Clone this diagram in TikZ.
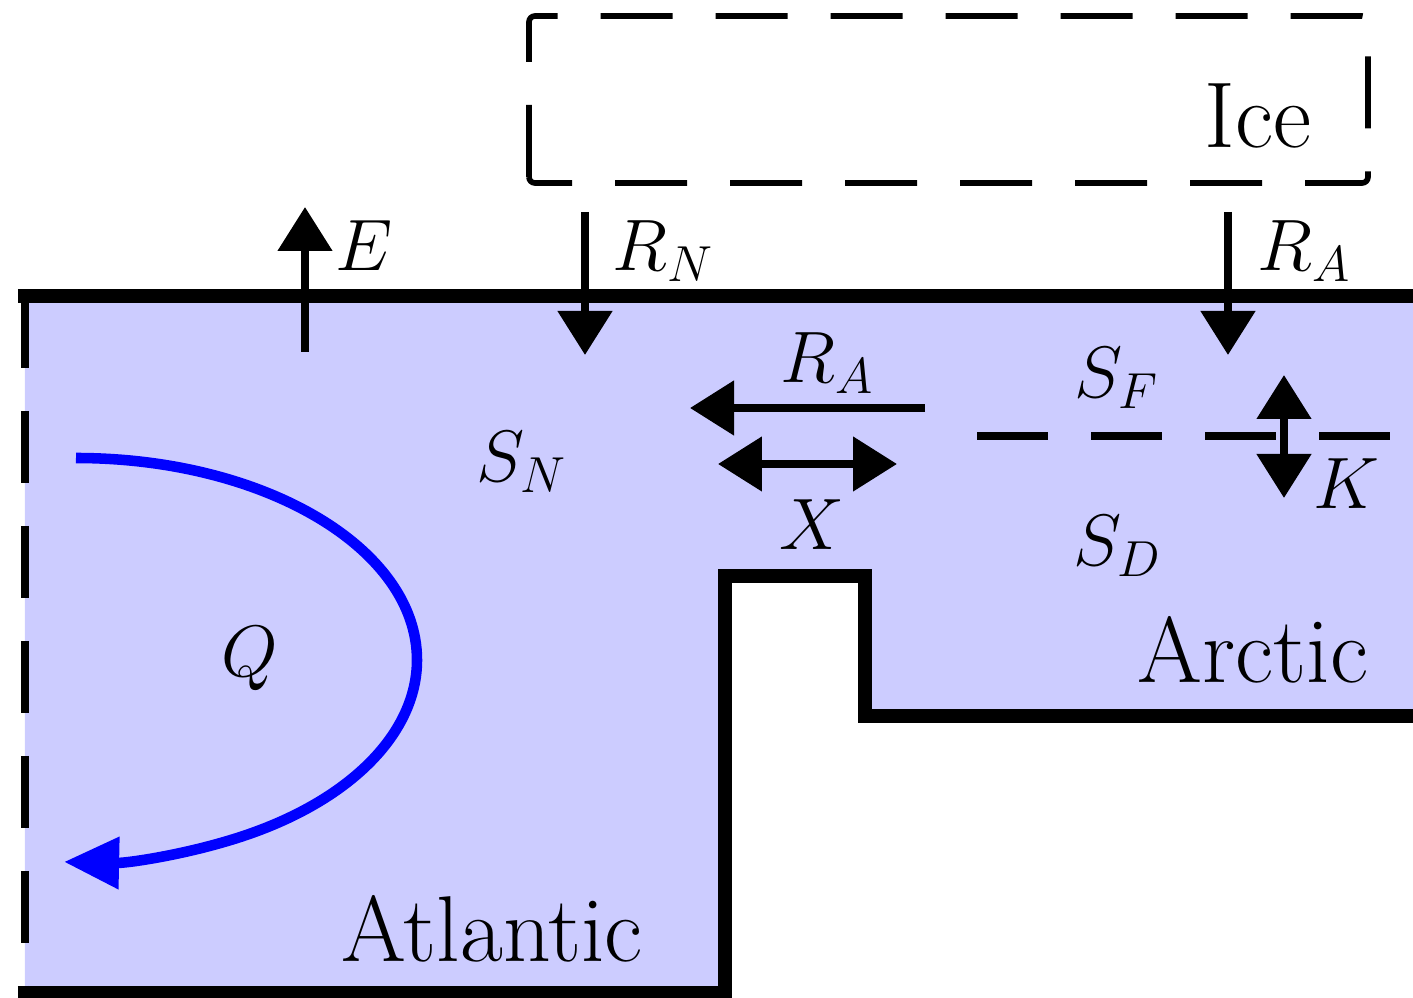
\documentclass[tikz,border=0pt]{standalone}
\usetikzlibrary{arrows.meta}

\begin{document}
\begin{tikzpicture}[
    wall/.style={line width=4pt, line join=miter},
    openb/.style={line width=2pt, dash pattern=on 0.72cm off 0.43cm},
    icebox/.style={line width=1.6pt, dash pattern=on 0.72cm off 0.43cm, rounded corners=0.6mm},
    flux/.style={-{Triangle[length=4.4mm,width=5.3mm]}, line width=2.3pt},
    mix/.style={{Triangle[length=4.4mm,width=5.3mm]}-{Triangle[length=4.4mm,width=5.3mm]}, line width=2.3pt},
    circ/.style={-{Triangle[length=5.5mm,width=5mm]}, line width=3pt, blue},
    lbl/.style={font=\fontsize{20}{24}\selectfont, inner sep=0pt, anchor=base west},
    region/.style={font=\fontsize{26.6}{30}\selectfont, inner sep=0pt, anchor=base},
]
\useasboundingbox (0,0) rectangle (14.13,9.98);

% ocean basins
\fill[blue!20] (0.25,7.02) -- (14.13,7.02) -- (14.13,2.82) -- (8.65,2.82) -- (8.65,4.22)
    -- (7.25,4.22) -- (7.25,0.05) -- (0.25,0.05) -- cycle;
\draw[wall] (0.18,7.02) -- (14.13,7.02);
\draw[wall] (0.18,0.05) -- (7.25,0.05) -- (7.25,4.22) -- (8.65,4.22) -- (8.65,2.82) -- (14.13,2.82);
\draw[openb] (0.25,7.02) -- (0.25,0.05);

% ice reservoir
\draw[icebox] (5.29,8.15) -- (5.29,9.82) -- (13.68,9.82) -- (13.68,8.15) -- cycle;
\node[region] (ice) at (12.58,8.50) {Ice};

% end points of the fluxes
\coordinate (E0) at (3.05,6.46);
\coordinate (E1) at (3.05,7.91);
\coordinate (RN0) at (5.85,7.86);
\coordinate (RN1) at (5.85,6.43);
\coordinate (RA0) at (12.28,7.86);
\coordinate (RA1) at (12.28,6.43);
\coordinate (RH0) at (9.25,5.90);
\coordinate (RH1) at (6.90,5.90);
\coordinate (X0) at (7.18,5.34);
\coordinate (X1) at (8.97,5.34);
\coordinate (K0) at (12.84,5.00);
\coordinate (K1) at (12.84,6.23);
\coordinate (F0) at (9.77,5.62);
\coordinate (F1) at (13.92,5.62);
\coordinate (Q0) at (0.76,5.40);

\draw[flux] (E0) -- (E1);
\draw[flux] (RN0) -- (RN1);
\draw[flux] (RA0) -- (RA1);
\draw[flux] (RH0) -- (RH1);
\draw[mix] (X0) -- (X1);
\draw[openb, dash pattern=on 0.71cm off 0.43cm] (F0) -- (F1);
\draw[mix] (K0) -- (K1);
\draw[circ] (Q0) arc[start angle=90, end angle=-92, x radius=3.41, y radius=2.02];

% labels
\node[lbl] (lE) at (3.35,7.27) {$E$};
\node[lbl] (lRN) at (6.12,7.27) {$R_N$};
\node[lbl] (lRA) at (12.57,7.27) {$R_A$};
\node[lbl] (lRH) at (7.80,6.15) {$R_A$};
\node[lbl, anchor=base] (lX) at (8.12,4.48) {$X$};
\node[lbl] (lK) at (13.13,4.89) {$K$};
\node[lbl] (SN) at (4.76,5.16) {$S_N$};
\node[lbl] (SF) at (10.74,6.00) {$S_F$};
\node[lbl] (SD) at (10.73,4.32) {$S_D$};
\node[lbl] (lQ) at (2.21,3.21) {$Q$};
\node[region] (atl) at (4.92,0.36) {Atlantic};
\node[region] (arc) at (12.53,3.15) {Arctic};
\end{tikzpicture}
\end{document}
